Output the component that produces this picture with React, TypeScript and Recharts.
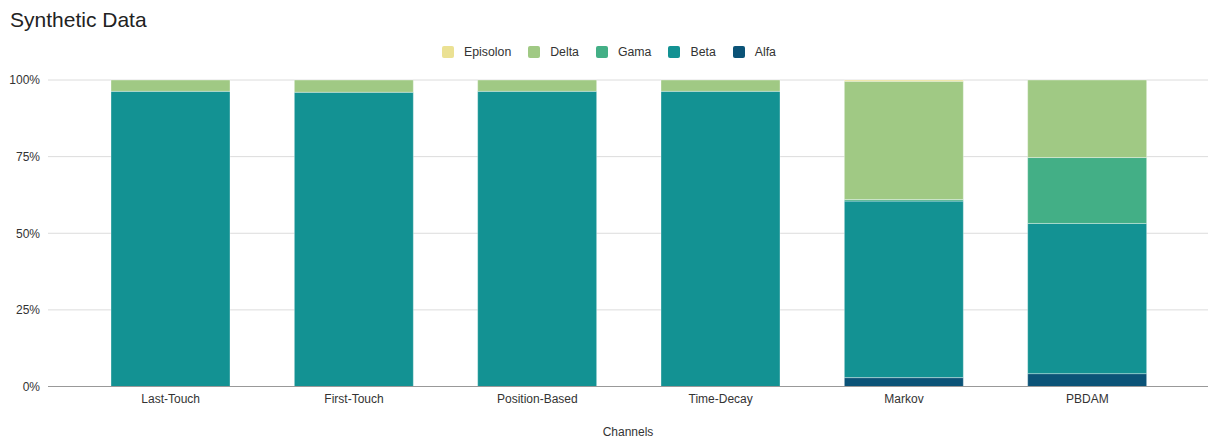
import React from 'react';
import { BarChart, Bar, XAxis, YAxis, CartesianGrid } from 'recharts';

// Share of credit per attribution model (percent, each column sums to 100)
const channels = ['Last-Touch', 'First-Touch', 'Position-Based', 'Time-Decay', 'Markov', 'PBDAM'];
const alfa = [0, 0, 0, 0, 2.9, 4.2];
const beta = [96.3, 96.0, 96.3, 96.3, 57.6, 49.0];
const gama = [0, 0, 0, 0, 0.5, 21.5];
const delta = [3.7, 4.0, 3.7, 3.7, 38.6, 25.3];
const episolon = [0, 0, 0, 0, 0.4, 0];
const yTicks = [0, 25, 50, 75, 100];

const series = [
  { key: 'Alfa', values: alfa, color: '#0b5377' },
  { key: 'Beta', values: beta, color: '#139293' },
  { key: 'Gama', values: gama, color: '#43af86' },
  { key: 'Delta', values: delta, color: '#a0c984' },
  { key: 'Episolon', values: episolon, color: '#ebe193' },
];

const data = channels.map((name, i) => {
  const row: Record<string, string | number> = { name };
  series.forEach((s) => {
    row[s.key] = s.values[i];
  });
  return row;
});

const FONT = '"Liberation Sans", Arial, sans-serif';

// Legend lists the series top-of-stack first
const legendOrder = [...series].reverse();

const LegendRow = () => (
  <div
    style={{
      position: 'absolute',
      left: 0,
      top: 45,
      width: 1208,
      height: 13,
      display: 'flex',
      justifyContent: 'center',
      alignItems: 'center',
      gap: 17,
      paddingLeft: 10,
      boxSizing: 'border-box',
      fontFamily: FONT,
      fontSize: 12.3,
      color: '#333',
    }}
  >
    {legendOrder.map((s) => (
      <div key={s.key} style={{ display: 'flex', alignItems: 'center' }}>
        <span
          style={{
            display: 'inline-block',
            width: 12,
            height: 12,
            borderRadius: 2,
            background: s.color,
            marginRight: 10,
          }}
        />
        <span>{s.key}</span>
      </div>
    ))}
  </div>
);

export default function App() {
  return (
    <div
      style={{
        position: 'absolute',
        left: 0,
        top: 0,
        width: 1208,
        height: 439,
        background: '#fff',
        fontFamily: FONT,
      }}
    >
      <div
        style={{
          position: 'absolute',
          left: 10,
          top: 9,
          fontSize: 21,
          lineHeight: '21px',
          color: '#222',
          whiteSpace: 'nowrap',
        }}
      >
        Synthetic Data
      </div>
      <LegendRow />
      <BarChart
        width={1208}
        height={439}
        data={data}
        margin={{ top: 80, right: 0, bottom: 0, left: 0 }}
        barCategoryGap={32}
      >
        <CartesianGrid vertical={false} stroke="#dcdcdc" />
        <XAxis
          dataKey="name"
          tickLine={false}
          axisLine={{ stroke: '#999' }}
          padding={{ left: 31, right: 29 }}
          height={52.5}
          tick={{ fontSize: 12, fill: '#333', fontFamily: FONT }}
          label={{ value: 'Channels', position: 'insideBottom', offset: 3, fontSize: 12, fill: '#333', fontFamily: FONT }}
        />
        <YAxis
          domain={[0, 100]}
          ticks={yTicks}
          width={48}
          axisLine={false}
          tickLine={false}
          tickFormatter={(v: number) => `${v}%`}
          tick={{ fontSize: 12, fill: '#333', fontFamily: FONT }}
        />
        {series.map((s) => (
          <Bar
            key={s.key}
            dataKey={s.key}
            stackId="share"
            fill={s.color}
            stroke="#ffffff"
            strokeOpacity={0.35}
            strokeWidth={1}
            isAnimationActive={false}
          />
        ))}
      </BarChart>
    </div>
  );
}
